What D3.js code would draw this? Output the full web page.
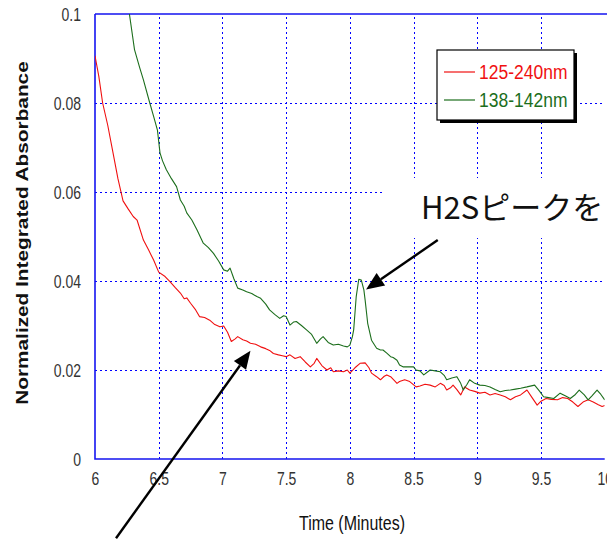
<!DOCTYPE html>
<html>
<head>
<meta charset="utf-8">
<script src="https://cdn.jsdelivr.net/npm/d3@7"></script>
<style>
  html, body { margin: 0; padding: 0; background: #fff; overflow: hidden; }
  svg { display: block; }
</style>
</head>
<body>
<svg id="chart" width="607" height="539"></svg>
<script>
// Time axis (minutes) and absorbance for the wide band 125-240 nm
const redTime = [6.00,6.03,6.06,6.10,6.14,6.18,6.22,6.26,6.30,6.33,6.38,6.42,6.46,6.50,6.55,6.59,6.63,6.67,6.70,6.72,6.75,6.79,6.82,6.86,6.90,6.94,6.98,7.01,7.04,7.07,7.10,7.12,7.16,7.19,7.22,7.26,7.30,7.34,7.37,7.40,7.44,7.47,7.50,7.53,7.57,7.61,7.65,7.69,7.72,7.74,7.78,7.82,7.85,7.87,7.91,7.95,7.98,8.00,8.04,8.08,8.12,8.15,8.17,8.21,8.24,8.27,8.29,8.32,8.35,8.37,8.39,8.43,8.47,8.52,8.55,8.59,8.63,8.67,8.71,8.74,8.76,8.79,8.81,8.84,8.87,8.90,8.94,8.98,9.02,9.06,9.10,9.14,9.18,9.22,9.26,9.30,9.34,9.39,9.43,9.47,9.50,9.54,9.58,9.63,9.67,9.71,9.75,9.79,9.83,9.87,9.91,9.95,9.98,10.00];
const redValues = [0.0906,0.0860,0.0800,0.0750,0.0690,0.0630,0.0580,0.0562,0.0545,0.0537,0.0492,0.0470,0.0447,0.0420,0.0410,0.0398,0.0385,0.0373,0.0360,0.0362,0.0350,0.0335,0.0320,0.0318,0.0312,0.0302,0.0297,0.0299,0.0285,0.0264,0.0270,0.0275,0.0268,0.0265,0.0260,0.0258,0.0252,0.0248,0.0244,0.0237,0.0234,0.0232,0.0230,0.0234,0.0226,0.0230,0.0218,0.0207,0.0215,0.0226,0.0210,0.0200,0.0205,0.0196,0.0198,0.0196,0.0200,0.0193,0.0205,0.0215,0.0216,0.0205,0.0193,0.0185,0.0178,0.0186,0.0189,0.0185,0.0176,0.0170,0.0174,0.0178,0.0174,0.0162,0.0164,0.0168,0.0166,0.0162,0.0170,0.0165,0.0155,0.0160,0.0166,0.0156,0.0144,0.0162,0.0155,0.0152,0.0148,0.0150,0.0144,0.0147,0.0144,0.0140,0.0133,0.0140,0.0144,0.0155,0.0138,0.0121,0.0130,0.0136,0.0134,0.0133,0.0138,0.0136,0.0128,0.0118,0.0128,0.0133,0.0128,0.0122,0.0118,0.0120];

// Narrow band 138-142 nm, with the H2S peak near 8.07 min
const greenTime = [6.27,6.31,6.35,6.38,6.43,6.46,6.49,6.51,6.53,6.56,6.60,6.64,6.67,6.70,6.72,6.76,6.80,6.85,6.89,6.93,6.97,7.01,7.04,7.06,7.09,7.12,7.16,7.19,7.23,7.27,7.30,7.34,7.37,7.41,7.45,7.48,7.50,7.53,7.56,7.58,7.62,7.66,7.70,7.74,7.77,7.79,7.83,7.87,7.91,7.95,7.98,8.00,8.02,8.03,8.05,8.07,8.09,8.11,8.12,8.14,8.17,8.21,8.24,8.26,8.29,8.32,8.34,8.37,8.39,8.42,8.47,8.50,8.52,8.55,8.58,8.63,8.67,8.71,8.74,8.76,8.80,8.84,8.87,8.89,8.92,8.94,8.98,9.02,9.06,9.10,9.14,9.18,9.22,9.26,9.30,9.34,9.39,9.45,9.49,9.52,9.56,9.60,9.65,9.69,9.73,9.77,9.80,9.84,9.87,9.90,9.94,9.97,10.00];
const greenValues = [0.1000,0.0920,0.0880,0.0852,0.0800,0.0770,0.0739,0.0688,0.0670,0.0650,0.0630,0.0612,0.0582,0.0568,0.0553,0.0537,0.0515,0.0485,0.0475,0.0462,0.0445,0.0425,0.0422,0.0429,0.0405,0.0384,0.0380,0.0376,0.0372,0.0365,0.0361,0.0348,0.0335,0.0325,0.0316,0.0322,0.0320,0.0301,0.0308,0.0309,0.0300,0.0290,0.0280,0.0260,0.0270,0.0275,0.0262,0.0256,0.0258,0.0254,0.0252,0.0256,0.0275,0.0290,0.0365,0.0404,0.0402,0.0380,0.0357,0.0305,0.0267,0.0249,0.0245,0.0245,0.0238,0.0230,0.0228,0.0222,0.0211,0.0207,0.0207,0.0207,0.0200,0.0198,0.0189,0.0200,0.0198,0.0196,0.0188,0.0178,0.0182,0.0185,0.0170,0.0155,0.0168,0.0178,0.0170,0.0166,0.0165,0.0162,0.0156,0.0151,0.0154,0.0155,0.0157,0.0159,0.0162,0.0166,0.0152,0.0140,0.0138,0.0136,0.0148,0.0142,0.0136,0.0145,0.0155,0.0144,0.0133,0.0142,0.0155,0.0145,0.0133];

const seriesNames = ["125-240nm", "138-142nm"];
const seriesColors = ["#f01010", "#1c6e1c"];

const xTicks = [6, 6.5, 7, 7.5, 8, 8.5, 9, 9.5, 10];
const xTickLabels = ["6", "6.5", "7", "7.5", "8", "8.5", "9", "9.5", "10"];
const yTicks = [0, 0.02, 0.04, 0.06, 0.08, 0.1];
const yTickLabels = ["0", "0.02", "0.04", "0.06", "0.08", "0.1"];

const xTitle = "Time (Minutes)";
const yTitle = "Normalized Integrated Absorbance";
const noteText = "H2Sピークを";

// Arrow annotations in data coordinates: [tail, head]
const peakArrow = [[8.69, 0.0492], [8.127, 0.0381]];
const baseArrow = [[6.165, -0.0178], [7.22, 0.0243]];

// ---------------------------------------------------------------
const svg = d3.select("#chart");
const plotL = 95, plotT = 14, plotR = 604.7, plotB = 459;
const stretch = 1.3;       // tall, condensed lettering of the original plot
const axisBlue = "#1515f0";
const font = "'Liberation Sans', Arial, sans-serif";

const x = d3.scaleLinear().domain([6, 10]).range([plotL, plotR]);
const y = d3.scaleLinear().domain([0, 0.1]).range([plotB, plotT]);

// Dotted grid
const gridX = svg.append("g")
  .attr("transform", `translate(0,${plotB})`)
  .call(d3.axisBottom(x).tickValues(xTicks.slice(1, -1)).tickSize(-(plotB - plotT)).tickFormat(""));
const gridY = svg.append("g")
  .attr("transform", `translate(${plotL},0)`)
  .call(d3.axisLeft(y).tickValues(yTicks.slice(1, -1)).tickSize(-(plotR - plotL)).tickFormat(""));
[gridX, gridY].forEach(g => {
  g.select(".domain").remove();
  g.selectAll("line")
    .attr("stroke", "#0000ff").attr("stroke-width", 1)
    .attr("stroke-dasharray", "2,3").attr("shape-rendering", "crispEdges");
});

// Frame
svg.append("path")
  .attr("d", `M${plotL},${plotT}H607M${plotL},${plotT}V${plotB}H${plotR}`)
  .attr("fill", "none").attr("stroke", axisBlue).attr("stroke-width", 1.6);

// Tick labels through the axes
const xAxis = svg.append("g")
  .attr("transform", `translate(0,${plotB})`)
  .call(d3.axisBottom(x).tickValues(xTicks).tickSize(0).tickFormat((d, i) => xTickLabels[i]));
xAxis.select(".domain").remove();
xAxis.selectAll("text")
  .attr("y", null).attr("dy", null)
  .attr("transform", `translate(0,26) scale(1,${stretch})`)
  .attr("font-family", font).attr("font-size", 14).attr("fill", "#333");

const yAxis = svg.append("g")
  .attr("transform", `translate(${plotL},0)`)
  .call(d3.axisLeft(y).tickValues(yTicks).tickSize(0).tickFormat((d, i) => yTickLabels[i]));
yAxis.select(".domain").remove();
yAxis.selectAll("text")
  .attr("x", null).attr("dy", null)
  .attr("transform", `translate(-14,6) scale(1,${stretch})`)
  .attr("font-family", font).attr("font-size", 14).attr("fill", "#333");

// Axis titles
svg.append("text")
  .attr("transform", `translate(352,530) scale(1,${stretch})`)
  .attr("text-anchor", "middle")
  .attr("font-family", font).attr("font-size", 16).attr("fill", "#111")
  .text(xTitle);
svg.append("text")
  .attr("transform", `translate(28,233) rotate(-90) scale(${stretch},1)`)
  .attr("text-anchor", "middle")
  .attr("font-family", font).attr("font-size", 16).attr("font-weight", "bold").attr("fill", "#111")
  .text(yTitle);

// Series lines
svg.append("clipPath").attr("id", "plotClip")
  .append("rect").attr("x", plotL).attr("y", plotT).attr("width", plotR - plotL).attr("height", plotB - plotT);
const line = d3.line().x(d => x(d[0])).y(d => y(d[1]));
const series = [
  d3.zip(redTime, redValues),
  d3.zip(greenTime, greenValues)
];
series.forEach((pts, i) => {
  svg.append("path")
    .datum(pts)
    .attr("clip-path", "url(#plotClip)")
    .attr("fill", "none")
    .attr("stroke", seriesColors[i])
    .attr("stroke-width", 1.1)
    .attr("stroke-linejoin", "round")
    .attr("d", line);
});

// Legend with drop shadow
const lg = svg.append("g").attr("transform", "translate(437,50)");
lg.append("rect").attr("x", 3).attr("y", 3).attr("width", 137).attr("height", 70).attr("fill", "#000");
lg.append("rect").attr("width", 137).attr("height", 70).attr("fill", "#fff").attr("stroke", "#000").attr("stroke-width", 1.2);
seriesNames.forEach((name, i) => {
  const cy = 22 + i * 28;
  lg.append("line").attr("x1", 7).attr("x2", 38).attr("y1", cy).attr("y2", cy)
    .attr("stroke", seriesColors[i]).attr("stroke-width", 1.2);
  lg.append("text")
    .attr("transform", `translate(42,${cy + 7}) scale(1,1.2)`)
    .attr("font-family", font).attr("font-size", 17.5).attr("fill", seriesColors[i])
    .text(name);
});

// Callout text on a white panel
svg.append("rect").attr("x", 383).attr("y", 178).attr("width", 224).attr("height", 60).attr("fill", "#fff");
svg.append("text")
  .attr("x", 421).attr("y", 219)
  .attr("font-family", "'Noto Sans CJK JP', 'Noto Sans', sans-serif").attr("font-size", 31).attr("fill", "#111")
  .text(noteText);

// Arrows
function drawArrow(a) {
  const x1 = x(a[0][0]), y1 = y(a[0][1]), x2 = x(a[1][0]), y2 = y(a[1][1]);
  const ang = Math.atan2(y2 - y1, x2 - x1);
  const len = 18, half = 7.5;
  const bx = x2 - len * Math.cos(ang), by = y2 - len * Math.sin(ang);
  svg.append("line").attr("x1", x1).attr("y1", y1).attr("x2", bx).attr("y2", by)
    .attr("stroke", "#000").attr("stroke-width", 2.4);
  const px = -Math.sin(ang) * half, py = Math.cos(ang) * half;
  svg.append("path")
    .attr("d", `M${x2},${y2}L${bx + px},${by + py}L${bx - px},${by - py}Z`)
    .attr("fill", "#000");
}
drawArrow(peakArrow);
drawArrow(baseArrow);
</script>
</body>
</html>
